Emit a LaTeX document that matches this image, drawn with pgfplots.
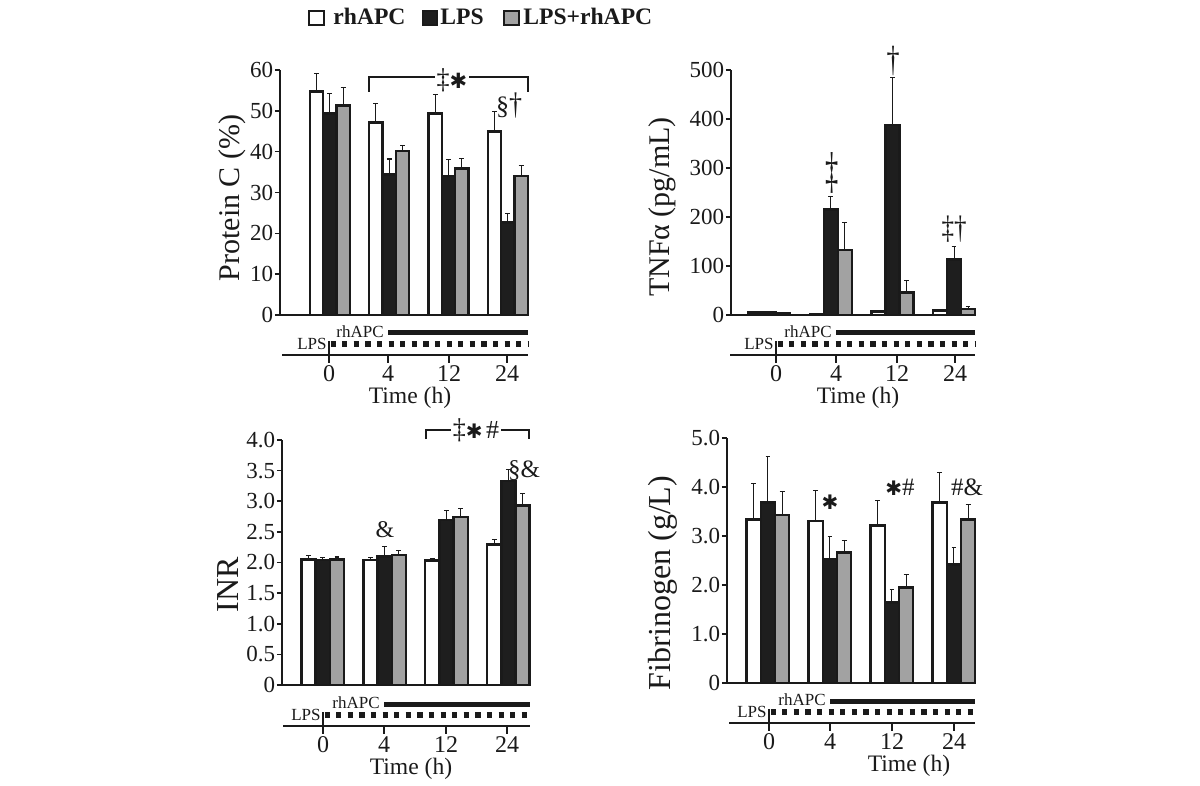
\documentclass[border=0pt]{standalone}
\usepackage{pgfplots}
\pgfplotsset{compat=1.18}
\usepackage{pgfplotstable}
\usepackage{graphicx}
\usepackage{fontspec}
\setmainfont{Liberation Serif}
\newfontfamily\djv{DejaVu Sans}

\definecolor{barblk}{HTML}{1E1E1E}
\definecolor{bargry}{HTML}{A2A2A2}
\definecolor{ink}{HTML}{1A1A1A}

\pgfplotstableread{
x w we b be g ge
0 54.7 4.5 49.4 4.9 51.3 4.5
1 47.2 4.6 34.4 3.8 40.2 1.4
2 49.4 4.5 34.1 3.9 35.9 2.5
3 44.9 4.9 22.6 2.2 34.0 2.7
}\dataA
\pgfplotstableread{
x w we b be g ge
0 5 2 5 1 4 1
1 2 0 215 27 133 55
2 7 0 388 96 46 25
3 9 0 113 27 12 6
}\dataB
\pgfplotstableread{
x w we b be g ge
0 2.05 0.06 2.04 0.04 2.05 0.04
1 2.04 0.04 2.10 0.16 2.12 0.07
2 2.03 0.03 2.69 0.16 2.74 0.14
3 2.29 0.09 3.33 0.19 2.93 0.20
}\dataC
\pgfplotstableread{
x w we b be g ge
0 3.34 0.73 3.68 0.95 3.43 0.48
1 3.31 0.61 2.53 0.46 2.66 0.25
2 3.21 0.52 1.64 0.27 1.95 0.26
3 3.68 0.61 2.42 0.35 3.34 0.30
}\dataD

\pgfplotsset{
  panel/.style={
    scale only axis, anchor=south west,
    axis x line*=bottom, axis y line*=left,
    axis line style={line width=0.9pt, draw=ink},
    xtick=\empty,
    tick align=outside,
    major tick length=2.6pt,
    tick style={line width=0.8pt, draw=ink},
    ymin=0, clip=false,
    ybar,
    yticklabel style={font=\fontsize{11.5}{12}\selectfont, text=ink, inner sep=0.6pt},
  },
  errsty/.style={error bars/.cd, y dir=plus, y explicit,
     error bar style={line width=0.55pt, draw=ink},
     error mark options={rotate=90, mark size=1.2pt, line width=0.55pt, draw=ink}},
}

\newcommand\timeline[8]{% xL xR yBase t0 t1 t2 t3 xTime
  \draw[line width=1pt, ink] (#1,#3) -- (#2,#3);
  \foreach \t in {#4,#5,#6,#7} \draw[line width=0.6pt, ink] (\t,#3) -- (\t,#3+8);
  \draw[line width=0.6pt, ink] (#4,#3) -- (#4,#3-14);
  \draw[line width=2.5pt, ink] (#5,#3-22) -- (#2,#3-22);
  \draw[line width=2.6pt, ink, dash pattern=on 2.6pt off 3.2pt] (#4+1.5,#3-11) -- (#2,#3-11);
  \node[anchor=east, inner sep=0, font=\fontsize{8.5}{9}\selectfont, text=ink] at (#5-4,#3-23) {rhAPC};
  \node[anchor=east, inner sep=0, font=\fontsize{8.5}{9}\selectfont, text=ink] at (#4-2,#3-11) {LPS};
  \node[inner sep=0, font=\fontsize{12}{13}\selectfont, text=ink] at (#4,#3+19) {0};
  \node[inner sep=0, font=\fontsize{12}{13}\selectfont, text=ink] at (#5,#3+19) {4};
  \node[inner sep=0, font=\fontsize{12}{13}\selectfont, text=ink] at (#6,#3+19) {12};
  \node[inner sep=0, font=\fontsize{12}{13}\selectfont, text=ink] at (#7,#3+19) {24};
  \node[inner sep=0, font=\fontsize{11.8}{13}\selectfont, text=ink] at (#8,#3+43) {Time (h)};
}

\begin{document}
\begin{tikzpicture}[x=0.5pt,y=-0.5pt]
\useasboundingbox (0,0) rectangle (1200,786);
\coordinate (oA) at (280,315);
\coordinate (oB) at (731,315);
\coordinate (oC) at (282,685);
\coordinate (oD) at (727,683);

% ---------- Panel A: Protein C
\begin{axis}[panel, at={(oA)}, width=124pt, height=122.5pt,
  xmin=-0.84, xmax=3.34, ymax=60, bar width=6.65pt,
  ytick={0,10,20,30,40,50,60}, yticklabels={0,10,20,30,40,50,60}]
\addplot[fill=white, draw=ink, line width=1.25pt, bar shift=-6.65pt, errsty] table[x=x,y=w,y error=we]{\dataA};
\addplot[fill=barblk, draw=ink, line width=1.25pt, bar shift=0pt, errsty] table[x=x,y=b,y error=be]{\dataA};
\addplot[fill=bargry, draw=ink, line width=1.25pt, bar shift=6.65pt, errsty] table[x=x,y=g,y error=ge]{\dataA};
\end{axis}

% ---------- Panel B: TNF
\begin{axis}[panel, at={(oB)}, width=122pt, height=122.5pt,
  xmin=-0.62, xmax=3.34, ymax=500, bar width=7pt,
  ytick={0,100,200,300,400,500}, yticklabels={0,100,200,300,400,500}]
\addplot[fill=white, draw=ink, line width=1.25pt, bar shift=-7pt, errsty] table[x=x,y=w,y error=we]{\dataB};
\addplot[fill=barblk, draw=ink, line width=1.25pt, bar shift=0pt, errsty] table[x=x,y=b,y error=be]{\dataB};
\addplot[fill=bargry, draw=ink, line width=1.25pt, bar shift=7pt, errsty] table[x=x,y=g,y error=ge]{\dataB};
\end{axis}

% ---------- Panel C: INR
\begin{axis}[panel, at={(oC)}, width=124pt, height=122.5pt,
  xmin=-0.66, xmax=3.35, ymax=4, bar width=7.1pt,
  ytick={0,0.5,1,1.5,2,2.5,3,3.5,4}, yticklabels={0,0.5,1.0,1.5,2.0,2.5,3.0,3.5,4.0}]
\addplot[fill=white, draw=ink, line width=1.25pt, bar shift=-7.1pt, errsty] table[x=x,y=w,y error=we]{\dataC};
\addplot[fill=barblk, draw=ink, line width=1.25pt, bar shift=0pt, errsty] table[x=x,y=b,y error=be]{\dataC};
\addplot[fill=bargry, draw=ink, line width=1.25pt, bar shift=7.1pt, errsty] table[x=x,y=g,y error=ge]{\dataC};
\end{axis}

% ---------- Panel D: Fibrinogen
\begin{axis}[panel, at={(oD)}, width=124pt, height=122.5pt,
  xmin=-0.66, xmax=3.34, ymax=5, bar width=7.1pt,
  ytick={0,1,2,3,4,5}, yticklabels={0,1.0,2.0,3.0,4.0,5.0}]
\addplot[fill=white, draw=ink, line width=1.25pt, bar shift=-7.1pt, errsty] table[x=x,y=w,y error=we]{\dataD};
\addplot[fill=barblk, draw=ink, line width=1.25pt, bar shift=0pt, errsty] table[x=x,y=b,y error=be]{\dataD};
\addplot[fill=bargry, draw=ink, line width=1.25pt, bar shift=7.1pt, errsty] table[x=x,y=g,y error=ge]{\dataD};
\end{axis}

% ---------- timelines
\timeline{282}{528}{355}{329}{388}{449}{507}{410}
\timeline{730}{975}{355}{776}{836}{897}{955}{858}
\timeline{283}{530}{726}{323}{384}{446}{507}{411}
\timeline{729}{975}{723}{769}{830}{892}{954}{909}

% ---------- y labels
\node[rotate=90, font=\fontsize{15}{15}\selectfont, text=ink] at (232,198) {Protein C (\%)};
\node[rotate=90, font=\fontsize{15}{15}\selectfont, text=ink] at (662,207) {TNFα (pg/mL)};
\node[rotate=90, font=\fontsize{16}{16}\selectfont, text=ink] at (228,585) {INR};
\node[rotate=90, font=\fontsize{16}{16}\selectfont, text=ink] at (663,583) {Fibrinogen (g/L)};

% ---------- legend
\draw[line width=1.1pt, ink, fill=white] (309,11) rectangle (324,25);
\node[anchor=base west, inner sep=0, font=\bfseries\fontsize{11.8}{12}\selectfont, text=ink] at (333,25) {rhAPC};
\draw[line width=1.1pt, ink, fill=barblk] (423,11) rectangle (437,25);
\node[anchor=base west, inner sep=0, font=\bfseries\fontsize{11.8}{12}\selectfont, text=ink] at (440,25) {LPS};
\draw[line width=1.1pt, ink, fill=bargry] (504,11) rectangle (519,25);
\node[anchor=base west, inner sep=0, font=\bfseries\fontsize{11.8}{12}\selectfont, text=ink] at (523,25) {LPS+rhAPC};

% ---------- annotations A
\draw[line width=0.6pt, ink] (369,92) -- (369,77) -- (528,77) -- (528,92);
\node[fill=white, inner sep=1pt, text=ink] at (452,80) {\scalebox{1}[1.1]{\fontsize{13}{13}\selectfont ‡}{\djv\fontsize{10.5}{12}\selectfont ✱}};
\node[text=ink, font=\fontsize{13}{13}\selectfont] at (509,106) {§\scalebox{1}[1.2]{†}};
% ---------- annotations B
\node[text=ink] at (832,173) {\scalebox{1.1}[2.1]{\fontsize{12}{12}\selectfont ‡}};
\node[text=ink] at (893,61) {\scalebox{1}[1.4]{\fontsize{13}{13}\selectfont †}};
\node[text=ink] at (954,229) {\scalebox{1}[1.3]{\fontsize{12.5}{12}\selectfont ‡†}};
% ---------- annotations C
\draw[line width=0.6pt, ink] (426,439) -- (426,430) -- (529,430) -- (529,439);
\node[fill=white, inner sep=1pt, text=ink] at (476,430) {\scalebox{1}[1.1]{\fontsize{13}{13}\selectfont ‡}{\djv\fontsize{10}{12}\selectfont ✱}\,{\fontsize{13}{13}\selectfont\#}};
\node[text=ink, font=\fontsize{12}{12}\selectfont] at (385,530) {\&};
\node[text=ink, font=\fontsize{12.5}{12}\selectfont] at (524,471) {§\&};
% ---------- annotations D
\node[text=ink] at (830,502) {\djv\fontsize{10}{12}\selectfont ✱};
\node[text=ink, font=\fontsize{12.5}{12}\selectfont] at (900,487) {{\djv\fontsize{10}{12}\selectfont ✱}\#};
\node[text=ink, font=\fontsize{12.5}{12}\selectfont] at (967,487) {\#\&};
\end{tikzpicture}
\end{document}
